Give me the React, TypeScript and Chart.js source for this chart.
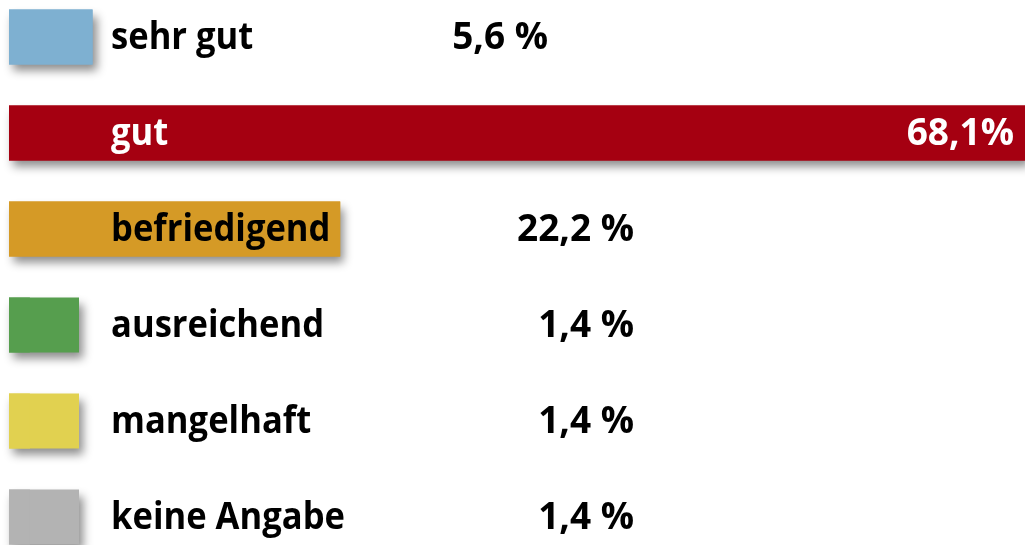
import React, { useEffect, useRef } from "react";
import { Chart, registerables } from "chart.js";

Chart.register(...registerables);

const categories = ["sehr gut", "gut", "befriedigend", "ausreichend", "mangelhaft", "keine Angabe"];
const values = [5.6, 68.1, 22.2, 1.4, 1.4, 1.4];
const valueLabels = ["5,6 %", "68,1%", "22,2 %", "1,4 %", "1,4 %", "1,4 %"];
const colors = ["#7eb0d1", "#a50011", "#d59a26", "#569e4e", "#e1d150", "#b3b3b3"];

const FONT = "bold 37px 'Open Sans', sans-serif";
const CONDENSE = 0.935;
const SWATCH = 70; // minimum visible swatch width in px

// Draws a shadowed backing shape (at least a swatch wide) under each bar
const backingPlugin = {
  id: "backing",
  beforeDatasetsDraw(chart: any) {
    const ctx = chart.ctx;
    const meta = chart.getDatasetMeta(0);
    ctx.save();
    ctx.shadowColor = "rgba(0,0,0,0.45)";
    ctx.shadowBlur = 9;
    ctx.shadowOffsetX = 4;
    ctx.shadowOffsetY = 6;
    meta.data.forEach((bar: any, i: number) => {
      const h = bar.height;
      const w = Math.max(bar.x - bar.base, SWATCH);
      ctx.fillStyle = colors[i];
      ctx.fillRect(bar.base, bar.y - h / 2, w, h);
    });
    ctx.restore();
  },
};

const labelPlugin = {
  id: "rowLabels",
  afterDraw(chart: any) {
    const ctx = chart.ctx;
    const meta = chart.getDatasetMeta(0);
    const right = chart.chartArea.right;
    const maxV = Math.max(...values);
    ctx.save();
    ctx.font = FONT;
    ctx.textBaseline = "middle";
    meta.data.forEach((bar: any, i: number) => {
      const inside = values[i] === maxV;
      ctx.fillStyle = inside ? "#ffffff" : "#000000";
      ctx.save();
      ctx.translate(111, bar.y + 1);
      ctx.scale(CONDENSE, 1);
      ctx.textAlign = "left";
      ctx.fillText(categories[i], 0, 0);
      ctx.restore();
      ctx.textAlign = "right";
      let x = 634;
      if (inside) x = right - 11;
      else if (i === 0) x = 548;
      ctx.fillText(valueLabels[i], x, bar.y + 1);
    });
    ctx.restore();
  },
};

export default function App() {
  const ref = useRef<HTMLCanvasElement>(null);
  useEffect(() => {
    document.body.style.margin = "0";
    const chart = new Chart(ref.current!, {
      type: "bar",
      data: {
        labels: categories,
        datasets: [
          {
            data: values,
            backgroundColor: colors,
            borderWidth: 0,
            barPercentage: 55 / 96,
            categoryPercentage: 1,
          },
        ],
      },
      options: {
        indexAxis: "y",
        responsive: false,
        animation: false,
        devicePixelRatio: 1,
        layout: { padding: { left: 9, right: 0, top: 0, bottom: 0 } },
        plugins: { legend: { display: false }, tooltip: { enabled: false } },
        scales: {
          x: { display: false, min: 0, max: 68.1 },
          y: { display: false },
        },
      },
      plugins: [backingPlugin, labelPlugin],
    });
    return () => chart.destroy();
  }, []);
  return (
    <div style={{ position: "fixed", left: 0, top: 0, width: 1025, height: 545, overflow: "hidden", background: "#fff" }}>
      <canvas
        ref={ref}
        width={1025}
        height={576}
        style={{ position: "absolute", left: 0, top: -11, width: 1025, height: 576 }}
      />
    </div>
  );
}
